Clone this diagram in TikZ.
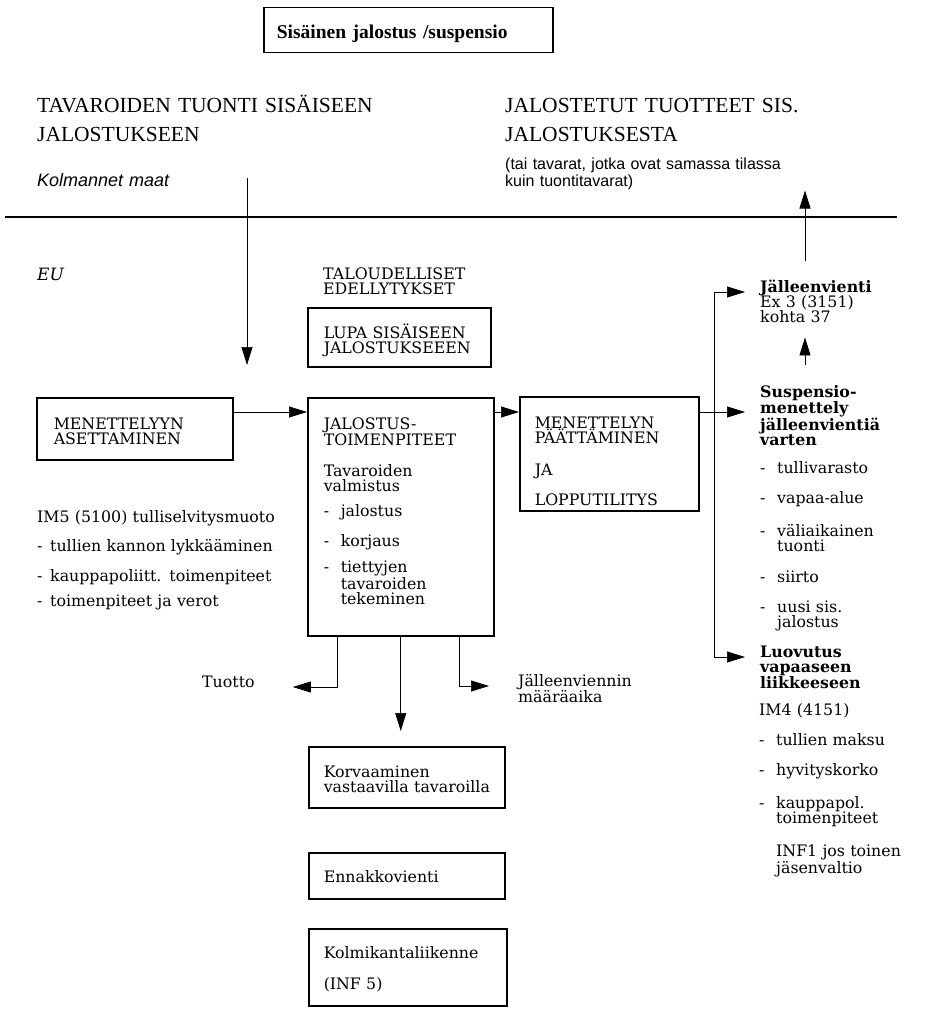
\documentclass[tikz,border=0pt]{standalone}
\usepackage{fontspec}
\setmainfont{DejaVu Serif}
\newfontfamily\headfont{Liberation Serif}
\newfontfamily\narrowfont{Liberation Sans}
\usetikzlibrary{arrows.meta, positioning}

\newcommand{\itm}{\makebox[17pt][l]{-}}
\newcommand{\cnt}{\hspace*{17pt}}

\begin{document}
\begin{tikzpicture}[
    x=1pt, y=-1pt,
    box/.style={draw, line width=1.5pt, anchor=north west, inner xsep=16pt, inner ysep=0pt, align=left, font=\fontsize{15.8}{15}\selectfont},
    txt/.style={anchor=base west, inner sep=0pt, align=left, font=\fontsize{15.8}{15}\selectfont},
    head/.style={anchor=base west, inner sep=0pt, align=left, font=\headfont\fontsize{21.5}{29}\selectfont},
    arrow/.style={line width=0.7pt, -{Triangle[length=18pt, width=11pt]}}
]
    \useasboundingbox (0,0) rectangle (925,1024);

    % title
    \node[box, inner xsep=13pt, text width=263pt, text height=31pt, text depth=14pt, font=\headfont\bfseries\fontsize{19.5}{19}\selectfont] (title) at (263,7) {Sisäinen jalostus /suspensio};

    % headings above the line
    \node[head, text width=400pt] (tuonti) at (37,113) {TAVAROIDEN TUONTI SISÄISEEN\\JALOSTUKSEEN};
    \node[head, text width=400pt] (jalost) at (505,113) {JALOSTETUT TUOTTEET SIS.\\JALOSTUKSESTA};
    \node[txt, text width=300pt, font=\narrowfont\fontsize{16}{17}\selectfont] (tai) at (505,170) {(tai tavarat, jotka ovat samassa tilassa\\kuin tuontitavarat)};
    \node[txt, text width=200pt, font=\narrowfont\itshape\fontsize{18}{18}\selectfont] (kolm) at (37,187) {Kolmannet maat};
    \draw[line width=1.6pt] (5,217) -- (897,217);

    % left part
    \node[txt, text width=60pt, font=\itshape\fontsize{17}{17}\selectfont] (eu) at (37,280) {EU};
    \node[box, inner xsep=17pt, text width=162pt, text height=31.5pt, text depth=30.5pt] (menet) at (36,397) {MENETTELYYN\\ASETTAMINEN};
    \node[txt, text width=280pt] (im5) at (37,522) {IM5 (5100) tulliselvitysmuoto\\[13pt]
        \makebox[13pt][l]{-}tullien kannon lykkääminen\\[13pt]
        \makebox[13pt][l]{-}kauppapoliitt. toimenpiteet\\[10pt]
        \makebox[13pt][l]{-}toimenpiteet ja verot};

    % middle part
    \node[txt, text width=170pt] (talous) at (323,279) {TALOUDELLISET\\EDELLYTYKSET};
    \node[box, text width=151pt, text height=30.5pt, text depth=28.5pt] (lupa) at (307,307) {LUPA SISÄISEEN\\JALOSTUKSEEEN};
    \node[box, text width=154pt, text height=31.5pt, text depth=206.5pt] (jal) at (307,397) {JALOSTUS-\\TOIMENPITEET\\[16pt]
        Tavaroiden\\valmistus\\[10pt]
        \itm jalostus\\[14pt]
        \itm korjaus\\[10pt]
        \itm tiettyjen\\\cnt tavaroiden\\\cnt tekeminen};
    \node[box, inner xsep=15pt, text width=149pt, text height=31.5pt, text depth=82.5pt] (paat) at (519,396) {MENETTELYN\\PÄÄTTÄMINEN\\[17pt]
        JA\\[14pt]
        LOPPUTILITYS};
    \node[anchor=base west, inner sep=0pt, font=\fontsize{15.8}{15}\selectfont] (tuotto) at (202,687) {Tuotto};
    \node[txt, text width=150pt] (jvm) at (518,686) {Jälleenviennin\\määräaika};
    \node[box, inner xsep=13pt, text width=170pt, text height=31pt, text depth=30pt] (korv) at (308,746) {\hspace*{2pt}Korvaaminen\\\hspace*{2pt}\mbox{vastaavilla tavaroilla}};
    \node[box, inner xsep=15pt, text width=166pt, text height=30pt, text depth=16pt] (ennak) at (308,852) {Ennakkovienti};
    \node[box, inner xsep=15pt, text width=168pt, text height=30pt, text depth=47pt] (kolmi) at (308,928) {Kolmikantaliikenne\\[16pt]
        (INF 5)};

    % right part
    \node[txt, text width=160pt, font=\bfseries\fontsize{15.8}{15}\selectfont] (jv) at (760,292) {Jälleenvienti};
    \node[txt, text width=160pt] (exk) at (760,307) {Ex 3 (3151)\\kohta 37};
    \node[txt, text width=160pt, font=\bfseries\fontsize{15.8}{15}\selectfont] (susp) at (760,397) {Suspensio-\\menettely\\jälleenvientiä\\varten};
    \node[txt, text width=160pt] (lst) at (760,473) {\itm tullivarasto\\[15pt]
        \itm vapaa-alue\\[17pt]
        \itm väliaikainen\\\cnt tuonti\\[16pt]
        \itm siirto\\[15pt]
        \itm uusi sis.\\\cnt jalostus};
    \node[txt, text width=160pt, font=\bfseries\fontsize{15.8}{15}\selectfont] (luov) at (760,657) {Luovutus\\vapaaseen\\liikkeeseen};
    \node[txt, text width=160pt] (im4) at (759,715) {IM4 (4151)\\[15pt]
        \itm tullien maksu\\[15pt]
        \itm hyvityskorko\\[17pt]
        \itm kauppapol.\\\cnt toimenpiteet\\[17pt]
        \cnt INF1 jos toinen\\\cnt jäsenvaltio};

    % connectors
    \coordinate (axis) at (0,412);
    \coordinate (entry) at (247,178);
    \coordinate (split) at (714,412);
    \coordinate (upx) at (805,0);

    \draw[arrow, shorten >=32pt] (entry) -- (entry |- menet.north);
    \draw[arrow] (menet.east |- axis) -- (jal.west |- axis);
    \draw[arrow] (jal.east |- axis) -- (paat.west |- axis);
    \draw[arrow, shorten >=15pt] (paat.east |- axis) -- (susp.west |- axis);
    \draw[arrow, shorten >=15pt] (split) |- (jv.base west);
    \draw[arrow, shorten >=15pt] (split) |- (luov.base west);
    \draw[arrow, shorten <=20pt, shorten >=15pt] (susp.north -| upx) -- (exk.south -| upx);
    \draw[arrow, shorten <=18pt] (jv.north -| upx) -- (tai.south -| upx);
    \draw[arrow, shorten >=38pt] ([xshift=-63pt]jal.south) |- (tuotto.base east);
    \draw[arrow, shorten >=15pt] (jal.south) -- (jal.south |- korv.north);
    \draw[arrow, shorten >=29pt] ([xshift=59pt]jal.south) |- (jvm.base west);

\end{tikzpicture}
\end{document}
